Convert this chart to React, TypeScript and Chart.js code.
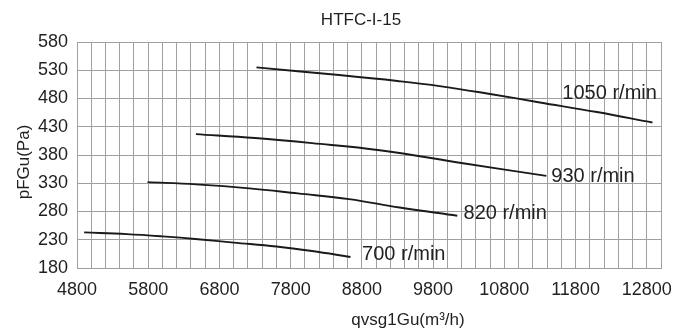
import React, { useEffect, useRef } from 'react';
import { Chart, registerables } from 'chart.js';

Chart.register(...registerables);

const chartTitle = 'HTFC-I-15';
const xTitle = 'qvsg1Gu(m³/h)';
const yTitle = 'pFGu(Pa)';

const speedLabels = ['700 r/min', '820 r/min', '930 r/min', '1050 r/min'];

const flow700 = [4900, 5500, 6000, 6500, 7000, 7600, 8100, 8640];
const press700 = [243, 240, 236, 231, 225, 218, 210, 199.5];

const flow820 = [5790, 6470, 7220, 7900, 8620, 9330, 10140];
const press820 = [332, 328, 321, 312, 302, 287, 272.5];

const flow930 = [6470, 7300, 8100, 9050, 10220, 11390];
const press930 = [417, 410, 401, 388.5, 365.5, 343];

const flow1050 = [7320, 8480, 9300, 9890, 10600, 11300, 12100, 12880];
const press1050 = [535, 521.5, 511, 502, 488, 473, 456, 437.5];

// label anchors (data units): left edge, text baseline
const labelFlow = [8803, 10227, 11460, 11615];
const labelPress = [194, 266, 332, 479];

const xMin = 4800;
const xMax = 13000;
const xStep = 200;
const xLabelStep = 1000;
const yMin = 180;
const yMax = 580;
const yStep = 50;

const FONT = '"Liberation Sans", Arial, Helvetica, sans-serif';
const TEXT = '#231f20';
const GRID = '#a0a0a0';

const toPts = (xs: number[], ys: number[]) => xs.map((x, i) => ({ x, y: ys[i] }));

const textPlugin = {
  id: 'textPlugin',
  afterDatasetsDraw(chart: any) {
    const { ctx, scales } = chart;
    ctx.save();
    ctx.fillStyle = TEXT;
    ctx.font = `20px ${FONT}`;
    ctx.textAlign = 'left';
    ctx.textBaseline = 'alphabetic';
    speedLabels.forEach((t, i) => {
      ctx.fillText(t, scales.x.getPixelForValue(labelFlow[i]), scales.y.getPixelForValue(labelPress[i]));
    });
    ctx.font = `17px ${FONT}`;
    ctx.textAlign = 'center';
    ctx.fillText(chartTitle, 361, 25);
    ctx.fillText(xTitle, 408, 325);
    ctx.translate(29, 162);
    ctx.rotate(-Math.PI / 2);
    ctx.fillText(yTitle, 0, 0);
    ctx.restore();
  },
};

export default function App() {
  const ref = useRef<HTMLCanvasElement | null>(null);
  useEffect(() => {
    if (!ref.current) return;
    const ds = (xs: number[], ys: number[]) => ({
      data: toPts(xs, ys),
      borderColor: '#1a1a1a',
      borderWidth: 1.9,
      pointRadius: 0,
      fill: false,
      tension: 0.4,
    });
    const chart = new Chart(ref.current, {
      type: 'line',
      data: {
        datasets: [
          ds(flow700, press700),
          ds(flow820, press820),
          ds(flow930, press930),
          ds(flow1050, press1050),
        ],
      },
      options: {
        responsive: false,
        animation: false,
        layout: { padding: { left: 0, right: 30, top: 42, bottom: 0 } },
        plugins: { legend: { display: false }, tooltip: { enabled: false }, title: { display: false } },
        scales: {
          x: {
            type: 'linear',
            min: xMin,
            max: xMax,
            afterFit: (s: any) => { s.height = 68; },
            border: { color: GRID, width: 1 },
            grid: { color: GRID, lineWidth: 1, drawTicks: false },
            ticks: {
              stepSize: xStep,
              maxTicksLimit: 1000,
              autoSkip: false,
              maxRotation: 0,
              minRotation: 0,
              padding: 11,
              color: TEXT,
              font: { family: FONT, size: 18 },
              callback: (v: any) => ((Number(v) - xMin) % xLabelStep === 0 ? String(v) : ''),
            },
          },
          y: {
            type: 'linear',
            min: yMin,
            max: yMax,
            afterFit: (s: any) => { s.width = 77; },
            border: { color: GRID, width: 1 },
            grid: { color: GRID, lineWidth: 1, drawTicks: false },
            ticks: {
              stepSize: yStep,
              padding: 9,
              color: TEXT,
              font: { family: FONT, size: 18 },
            },
          },
        },
      },
      plugins: [textPlugin],
    });
    return () => chart.destroy();
  }, []);
  return (
    <div style={{ position: 'absolute', left: 0, top: 0, width: 691, height: 336, background: '#fff' }}>
      <canvas ref={ref} width={691} height={336} style={{ display: 'block' }} />
    </div>
  );
}
